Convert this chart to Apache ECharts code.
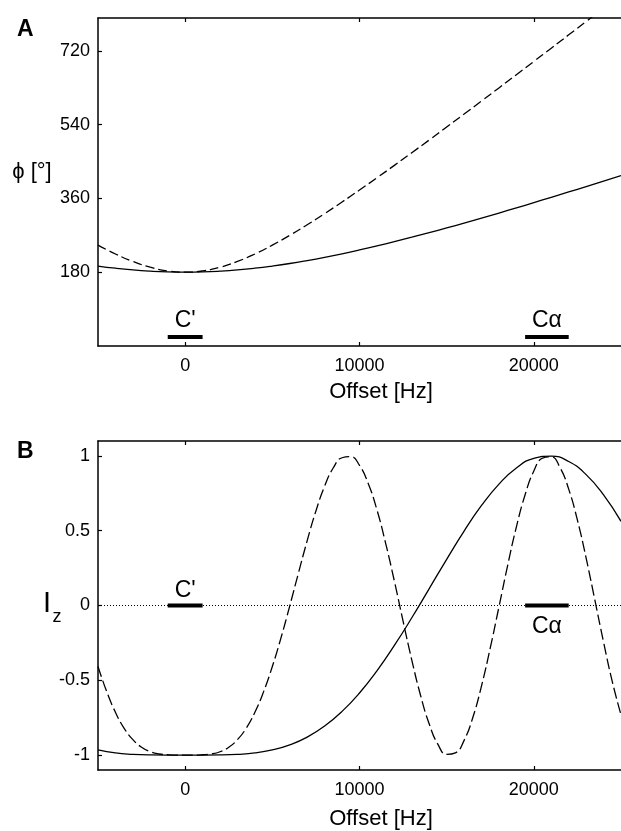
<!DOCTYPE html>
<html>
<head>
<meta charset="utf-8">
<script src="https://cdn.jsdelivr.net/npm/echarts@6/dist/echarts.min.js"></script>
<style>
  html, body { margin: 0; padding: 0; background: #fff; }
  #chart { width: 621px; height: 831px; }
</style>
</head>
<body>
<div id="chart"></div>
<script>
// offsets in Hz (panel A and solid curve of panel B)
const offsetCoarse = [-5000, -4000, -3000, -2000, -1000, 0, 1000, 2000, 3000, 4000, 5000,
  6000, 7000, 8000, 9000, 10000, 11000, 12000, 13000, 14000, 15000,
  16000, 17000, 18000, 19000, 20000, 21000, 22000, 23000, 24000, 25000];

// panel A: phase in degrees
const phaseSolid = [195.0, 189.7, 185.5, 182.5, 180.6, 180.0, 180.6, 182.5, 185.5, 189.7, 195.0,
  201.2, 208.4, 216.3, 224.9, 234.2, 244.1, 254.5, 265.3, 276.5, 288.0,
  299.9, 312.0, 324.3, 336.9, 349.7, 362.6, 375.7, 388.9, 402.3, 415.7];
const phaseDashed = [245.9, 224.4, 206.2, 192.1, 183.1, 180.0, 183.1, 192.1, 206.2, 224.4, 245.9,
  269.9, 295.7, 322.9, 351.3, 380.4, 410.2, 440.6, 471.4, 502.5, 534.0,
  565.6, 597.5, 629.5, 661.7, 694.0, 726.4, 758.9, 791.5, 824.2, 857.0];

// panel B: Iz
const izSolid = [-0.966, -0.986, -0.995, -0.999, -1.000, -1.000, -1.000, -0.999, -0.995, -0.986, -0.966,
  -0.932, -0.880, -0.806, -0.708, -0.585, -0.437, -0.267, -0.082, 0.113, 0.309,
  0.498, 0.669, 0.812, 0.920, 0.984, 0.999, 0.963, 0.875, 0.740, 0.563];

const offsetFine = [-5000, -4500, -4000, -3500, -3000, -2500, -2000, -1500, -1000, -500,
  0, 500, 1000, 1500, 2000, 2500, 3000, 3500, 4000, 4500,
  5000, 5500, 6000, 6500, 7000, 7500, 8000, 8500, 9000, 9500,
  10000, 10500, 11000, 11500, 12000, 12500, 13000, 13500, 14000, 14500,
  15000, 15500, 16000, 16500, 17000, 17500, 18000, 18500, 19000, 19500,
  20000, 20500, 21000, 21500, 22000, 22500, 23000, 23500, 24000, 24500, 25000];
const izDashed = [-0.408, -0.576, -0.714, -0.821, -0.897, -0.948, -0.978, -0.993, -0.998, -1.000,
  -1.000, -1.000, -0.998, -0.993, -0.978, -0.948, -0.897, -0.821, -0.714, -0.576,
  -0.408, -0.215, -0.002, 0.218, 0.434, 0.632, 0.798, 0.921, 0.988, 0.995,
  0.937, 0.816, 0.640, 0.416, 0.163, -0.105, -0.365, -0.600, -0.793, -0.929,
  -0.995, -0.985, -0.902, -0.749, -0.537, -0.284, -0.009, 0.269, 0.526, 0.741,
  0.899, 0.985, 0.994, 0.923, 0.778, 0.571, 0.317, 0.037, -0.245, -0.509, -0.731];

// resonance markers
const cPrimeRange = [-1000, 1000];
const cAlphaRange = [19500, 22000];
const markerYA = 22;
const labelYA = 62;
const labelYB = [0.1, -0.14];
const zeroLine = [-5000, 25000];

const xTicks = [0, 10000, 20000];
const phaseTicks = [180, 360, 540, 720];
const izTicks = [-1, -0.5, 0, 0.5, 1];

const FONT = '"Liberation Sans", Arial, Helvetica, sans-serif';
const zip = (xs, ys) => xs.map((x, i) => [x, ys[i]]);

const chart = echarts.init(document.getElementById('chart'));

const axisLine = { onZero: false, lineStyle: { color: '#000', width: 1.5 } };
const tick = vals => ({ inside: true, length: 4, customValues: vals, lineStyle: { color: '#000', width: 1.2 } });
const lbl = (vals, margin) => ({
  customValues: vals, fontSize: 18, color: '#000', fontFamily: FONT, margin: margin,
  formatter: v => String(v)
});

const xAxisFor = (gi, margin) => [
  {
    type: 'value', gridIndex: gi, position: 'bottom', min: -5000, max: 25000,
    axisLine: axisLine, axisTick: tick(xTicks), axisLabel: lbl(xTicks, margin),
    splitLine: { show: false }
  },
  {
    type: 'value', gridIndex: gi, position: 'top', min: -5000, max: 25000,
    axisLine: axisLine, axisTick: tick(xTicks), axisLabel: { show: false },
    splitLine: { show: false }
  }
];

const curve = (data, xi, yi, dashed) => ({
  type: 'line', xAxisIndex: xi, yAxisIndex: yi, data: data, smooth: true,
  symbol: 'none', silent: true,
  lineStyle: { color: '#000', width: 1.3, type: dashed || 'solid' }
});

const bar = (range, y, xi, yi) => ({
  type: 'line', xAxisIndex: xi, yAxisIndex: yi, symbol: 'none', silent: true,
  data: [[range[0], y], [range[1], y]],
  lineStyle: { color: '#000', width: 4 }
});

const textMark = (name, x, y, xi, yi) => ({
  type: 'scatter', xAxisIndex: xi, yAxisIndex: yi, symbolSize: 0, silent: true,
  itemStyle: { opacity: 1 },
  data: [{ name: name, value: [x, y] }],
  label: { show: true, position: 'inside', formatter: '{b}', color: '#000', opacity: 1, fontSize: 23, fontFamily: FONT }
});

const mid = r => (r[0] + r[1]) / 2;

const option = {
  animation: false,
  backgroundColor: '#fff',
  grid: [
    { left: 98, top: 18, width: 533, height: 328 },
    { left: 98, top: 441, width: 533, height: 329 }
  ],
  xAxis: [...xAxisFor(0, 11), ...xAxisFor(1, 11)],
  yAxis: [
    {
      type: 'value', gridIndex: 0, min: 0, max: 800,
      axisLine: axisLine, axisTick: tick(phaseTicks), axisLabel: lbl(phaseTicks, 8),
      splitLine: { show: false }
    },
    {
      type: 'value', gridIndex: 1, min: -1.1, max: 1.1,
      axisLine: axisLine, axisTick: tick(izTicks), axisLabel: lbl(izTicks, 8),
      splitLine: { show: false }
    }
  ],
  series: [
    curve(zip(offsetCoarse, phaseSolid), 0, 0),
    curve(zip(offsetCoarse, phaseDashed), 0, 0, [9, 4]),
    bar(cPrimeRange, markerYA, 0, 0),
    bar(cAlphaRange, markerYA, 0, 0),
    textMark("C'", mid(cPrimeRange), labelYA, 0, 0),
    textMark('Cα', mid(cAlphaRange), labelYA, 0, 0),

    {
      type: 'line', xAxisIndex: 2, yAxisIndex: 1, symbol: 'none', silent: true,
      data: zeroLine.map(x => [x, 0]),
      lineStyle: { color: '#000', width: 1, type: [1, 2] }
    },
    curve(zip(offsetCoarse, izSolid), 2, 1),
    curve(zip(offsetFine, izDashed), 2, 1, [11, 4]),
    bar(cPrimeRange, 0, 2, 1),
    bar(cAlphaRange, 0, 2, 1),
    textMark("C'", mid(cPrimeRange), labelYB[0], 2, 1),
    textMark('Cα', mid(cAlphaRange), labelYB[1], 2, 1)
  ],
  graphic: [
    { type: 'text', left: 17, top: 18, style: { text: 'A', font: 'bold 23px ' + FONT, fill: '#000' } },
    { type: 'text', left: 17, top: 440, style: { text: 'B', font: 'bold 23px ' + FONT, fill: '#000' } },
    { type: 'text', x: 32, y: 172, style: { text: 'ϕ [°]', font: '22px ' + FONT, fill: '#000', align: 'center', verticalAlign: 'middle' } },
    { type: 'text', x: 47, y: 604, style: { text: 'I', font: '29px ' + FONT, fill: '#000', align: 'center', verticalAlign: 'middle' } },
    { type: 'text', x: 57, y: 617, style: { text: 'z', font: '18px ' + FONT, fill: '#000', align: 'center', verticalAlign: 'middle' } },
    { type: 'text', x: 381, y: 392, style: { text: 'Offset [Hz]', font: '22px ' + FONT, fill: '#000', align: 'center', verticalAlign: 'middle' } },
    { type: 'text', x: 381, y: 819, style: { text: 'Offset [Hz]', font: '22px ' + FONT, fill: '#000', align: 'center', verticalAlign: 'middle' } }
  ]
};

chart.setOption(option);
</script>
</body>
</html>
